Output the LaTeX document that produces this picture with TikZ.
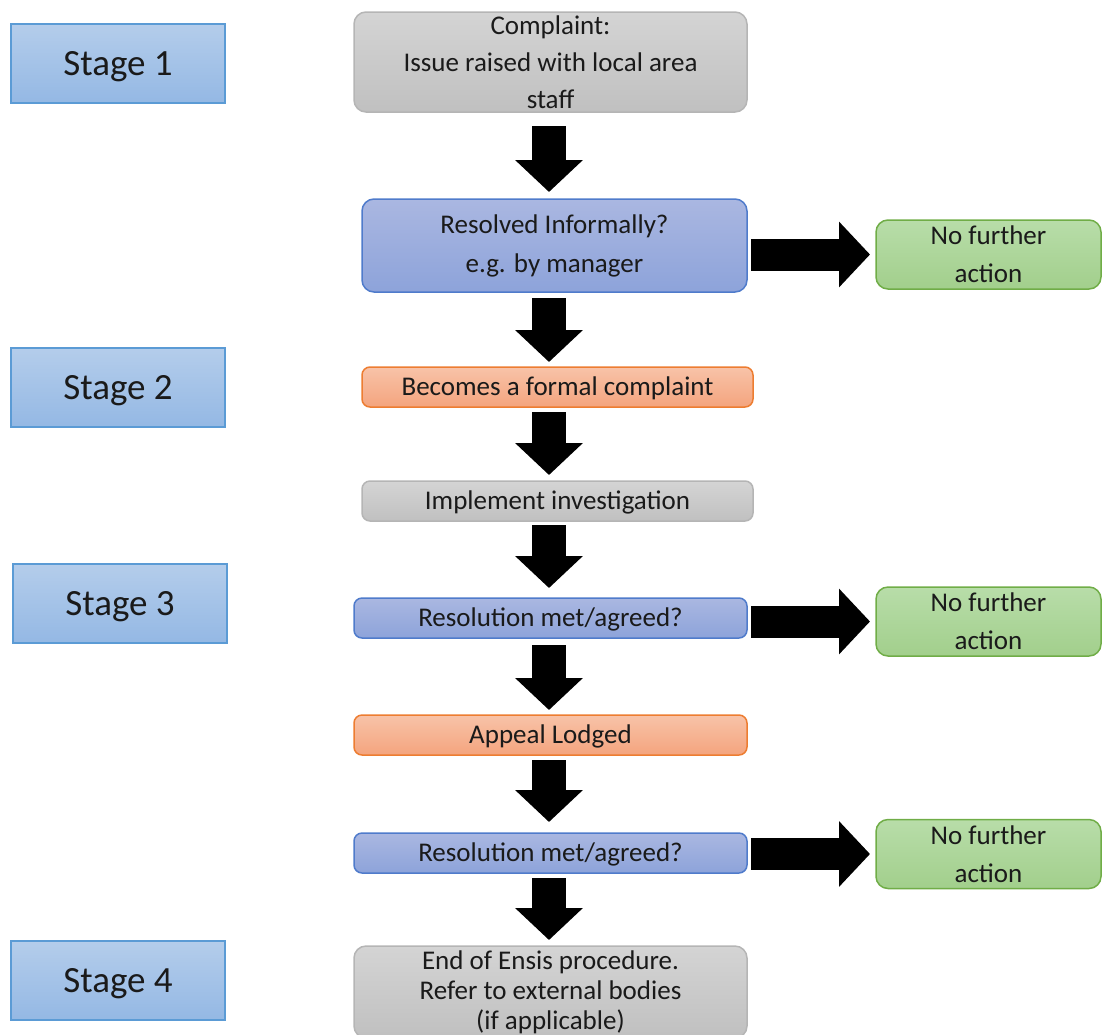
\documentclass[tikz,border=0pt]{standalone}
\usepackage{fontspec}
\setmainfont{Carlito}
\usetikzlibrary{arrows.meta,calc}
\definecolor{stgT}{HTML}{B4CDEB}
\definecolor{stgD}{HTML}{94B8E4}
\definecolor{stgB}{HTML}{5B9BD5}
\definecolor{gryT}{HTML}{D4D4D4}
\definecolor{gryD}{HTML}{C0C0C0}
\definecolor{gryB}{HTML}{B5B5B5}
\definecolor{bluT}{HTML}{AAB7E1}
\definecolor{bluD}{HTML}{8DA3DA}
\definecolor{bluB}{HTML}{4F7BCB}
\definecolor{orgT}{HTML}{F8C3A8}
\definecolor{orgD}{HTML}{F4A47E}
\definecolor{orgB}{HTML}{ED7D31}
\definecolor{grnT}{HTML}{B8DDA9}
\definecolor{grnD}{HTML}{A2CF8C}
\definecolor{grnB}{HTML}{70AD47}
\definecolor{txt}{HTML}{1A1A1A}
\begin{document}
\begin{tikzpicture}[x=1pt,y=-1pt,
  box/.style={rounded corners=12pt, line width=1.5pt, align=center, inner sep=0pt, outer sep=0pt, text=txt, font=\fontsize{27}{37}\selectfont},
  oneline/.style={text height=24.5pt, text depth=7pt},
  stagebox/.style={draw=stgB, top color=stgT, bottom color=stgD, line width=1.5pt, minimum width=214pt, minimum height=79pt, inner sep=0pt, outer sep=0pt, text=txt, font=\fontsize{37}{40}\selectfont, text height=34pt, text depth=9.5pt},
  graybox/.style={box, draw=gryB, top color=gryT, bottom color=gryD},
  bluebox/.style={box, draw=bluB, top color=bluT, bottom color=bluD},
  orangebox/.style={box, draw=orgB, top color=orgT, bottom color=orgD},
  greenbox/.style={box, draw=grnB, top color=grnT, bottom color=grnD, minimum width=225pt, minimum height=69pt, font=\fontsize{27}{38}\selectfont},
  downarr/.style={draw=black, line width=34pt, -{Triangle[length=32pt,width=66pt]}},
  rightarr/.style={draw=black, line width=32pt, -{Triangle[length=31pt,width=64pt]}}
]
\useasboundingbox (0,0) rectangle (1102,1034);
\clip (0,0) rectangle (1102,1034);

% stage labels
\node[stagebox] (s1) at (118,63.5) {Stage 1};
\node[stagebox] (s2) at (118,387.5) {Stage 2};
\node[stagebox] (s3) at (120,603.5) {Stage 3};
\node[stagebox] (s4) at (118,980.5) {Stage 4};

% flow boxes
\node[graybox, minimum width=393pt, minimum height=100pt] (c) at (550.5,62) {Complaint:\\Issue raised with local area\\staff};
\node[bluebox, minimum width=385pt, minimum height=93pt, font=\fontsize{27}{39}\selectfont] (r) at (554.5,245.5) {Resolved Informally?\\e.g. by manager};
\node[greenbox] (n1) at (988.5,254.5) {No further\\action};
\node[orangebox, oneline, minimum width=391pt, minimum height=40pt, rounded corners=8pt] (f) at (557.5,387) {Becomes a formal complaint};
\node[graybox, oneline, minimum width=391pt, minimum height=40pt, rounded corners=8pt] (i) at (557.5,501) {Implement investigation};
\node[bluebox, oneline, minimum width=393pt, minimum height=40pt, rounded corners=8pt] (r1) at (550.5,618) {Resolution met/agreed?};
\node[greenbox] (n2) at (988.5,621.5) {No further\\action};
\node[orangebox, oneline, minimum width=393pt, minimum height=40pt, rounded corners=8pt] (ap) at (550.5,735) {Appeal Lodged};
\node[bluebox, oneline, minimum width=393pt, minimum height=40pt, rounded corners=8pt] (r2) at (550.5,853) {Resolution met/agreed?};
\node[greenbox] (n3) at (988.5,854) {No further\\action};
\node[graybox, minimum width=393pt, minimum height=92pt, font=\fontsize{27}{30}\selectfont] (e) at (550.5,992) {End of Ensis procedure.\\Refer to external bodies\\(if applicable)};

% block arrows
\coordinate (ax) at (549,0);
\draw[downarr] ($(c.south -| ax)+(0,14)$) -- ($(r.north -| ax)+(0,-7)$);
\draw[downarr] ($(r.south -| ax)+(0,6)$) -- ($(f.north -| ax)+(0,-5)$);
\draw[downarr] ($(f.south -| ax)+(0,5)$) -- ($(i.north -| ax)+(0,-6)$);
\draw[downarr] ($(i.south -| ax)+(0,4)$) -- ($(r1.north -| ax)+(0,-10)$);
\draw[downarr] ($(r1.south -| ax)+(0,7)$) -- ($(ap.north -| ax)+(0,-5)$);
\draw[downarr] ($(ap.south -| ax)+(0,5)$) -- ($(r2.north -| ax)+(0,-11)$);
\draw[downarr] ($(r2.south -| ax)+(0,5)$) -- ($(e.north -| ax)+(0,-6)$);

\draw[rightarr] ($(r.east |- n1.west)+(4,0)$) -- ($(n1.west)+(-6,0)$);
\draw[rightarr] ($(r1.east |- n2.west)+(4,0)$) -- ($(n2.west)+(-6,0)$);
\draw[rightarr] ($(r2.east |- n3.west)+(4,0)$) -- ($(n3.west)+(-6,0)$);
\end{tikzpicture}
\end{document}
